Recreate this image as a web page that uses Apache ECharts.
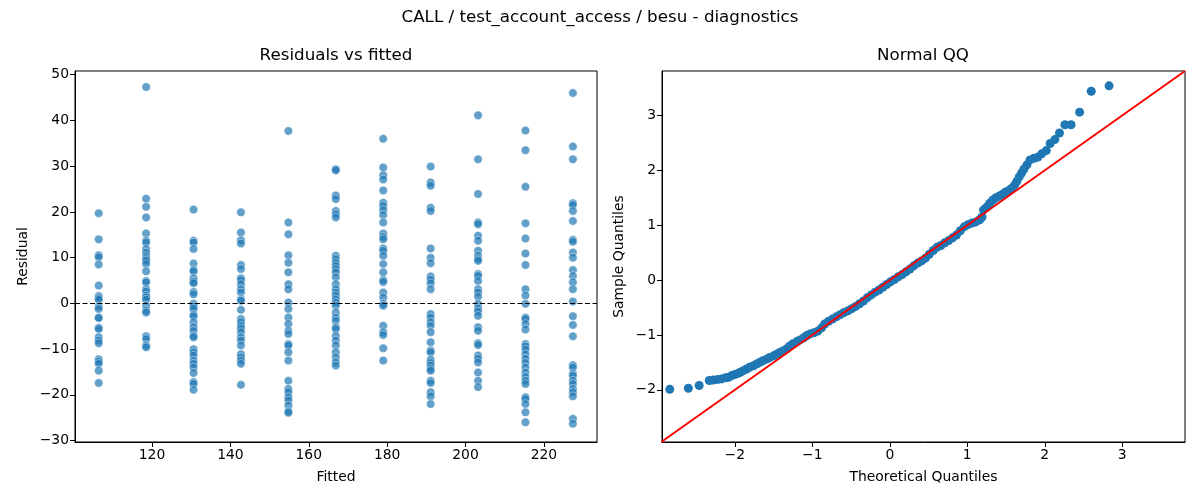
<!DOCTYPE html>
<html lang="en">
<head>
    <meta charset="UTF-8">
    <title>CALL / test_account_access / besu - diagnostics</title>
    <script src="https://cdn.jsdelivr.net/npm/echarts@6/dist/echarts.min.js"></script>
    <style>
        html, body { margin: 0; padding: 0; background: #fff; }
        #main { width: 1200px; height: 500px; }
    </style>
</head>
<body>

<div id="main"></div>

<script type="text/javascript">
    // fitted value of each column of residuals
    var fittedLevels = [106.4, 118.5, 130.6, 142.7, 154.8, 166.9, 179.0, 191.1, 203.2, 215.3, 227.4];

    // residuals read per fitted level
    var residuals = [
        [19.7, 14.0, 10.5, 10.1, 8.5, 3.9, 1.6, 1.2, 0.8, -0.7, -1.2, -3.1, -3.2, -5.3, -5.6, -7.4, -8.1, -8.7, -12.2, -12.7, -13.2, -14.7, -17.4],
        [47.3, 22.9, 21.1, 18.8, 15.3, 13.7, 13.3, 11.9, 11.1, 10.3, 9.7, 9.3, 8.6, 7.0, 4.9, 4.6, 3.1, 2.6, 1.7, 1.3, 0.8, -0.5, -1.6, -2.0, -7.2, -7.8, -9.2, -9.6],
        [20.5, 13.7, 13.3, 11.9, 8.7, 7.3, 7.0, 5.5, 4.8, 4.4, 2.5, 2.0, -0.1, -0.7, -1.2, -2.5, -2.8, -4.1, -5.2, -6.0, -7.1, -7.4, -10.0, -10.7, -11.4, -12.5, -13.2, -14.0, -15.2, -17.2, -17.6, -18.9],
        [19.9, 15.5, 13.8, 13.1, 8.4, 7.5, 5.5, 5.1, 4.2, 3.1, 2.4, 0.9, 0.6, -1.4, -3.4, -4.1, -4.9, -5.5, -6.3, -7.4, -8.1, -9.2, -11.1, -11.8, -12.5, -13.2, -17.8],
        [37.7, 17.7, 15.1, 10.5, 8.9, 6.8, 4.2, 3.1, 0.2, -1.2, -3.1, -4.5, -6.0, -6.7, -8.9, -9.2, -10.7, -12.5, -16.9, -18.7, -19.4, -20.5, -21.2, -22.3, -23.6, -23.9],
        [29.3, 29.1, 23.6, 22.8, 20.2, 19.5, 18.8, 10.4, 9.7, 8.9, 8.2, 7.5, 6.8, 5.7, 4.2, 3.1, 2.4, 1.7, 0.9, 0.2, -0.5, -2.0, -3.1, -3.8, -5.2, -5.6, -7.1, -8.1, -9.2, -10.7, -11.8, -12.9, -13.6],
        [36.0, 29.7, 28.0, 27.1, 24.7, 22.0, 21.3, 20.4, 19.3, 17.7, 15.3, 14.5, 14.0, 12.0, 11.5, 10.4, 8.6, 6.8, 5.1, 4.7, 2.4, 1.3, -0.1, -0.5, -4.9, -6.3, -6.9, -9.8, -12.5],
        [29.9, 26.4, 25.7, 20.9, 20.2, 12.0, 10.0, 8.8, 5.9, 5.2, 4.4, 3.1, -2.3, -3.1, -4.1, -4.9, -6.3, -8.5, -10.3, -10.7, -12.3, -13.0, -13.6, -14.3, -14.7, -16.9, -17.4, -19.4, -20.3, -22.0],
        [41.1, 31.5, 23.9, 17.7, 17.3, 14.8, 13.7, 11.5, 10.4, 9.7, 9.3, 6.4, 6.0, 4.9, 3.1, 2.4, 1.5, -0.1, -1.1, -1.8, -2.7, -5.2, -6.0, -8.7, -9.1, -11.4, -12.1, -12.9, -15.1, -16.9, -18.3],
        [37.8, 33.5, 25.5, 17.5, 14.2, 10.9, 8.4, 3.1, 1.7, -0.1, -3.1, -3.4, -4.5, -5.7, -8.9, -9.4, -10.1, -11.1, -12.1, -13.0, -14.0, -15.1, -16.1, -16.9, -17.6, -20.5, -20.9, -22.0, -23.8, -26.0],
        [46.0, 34.3, 31.5, 21.9, 21.5, 20.2, 18.0, 13.9, 13.5, 11.1, 10.0, 7.3, 6.0, 4.6, 3.1, 0.4, -2.8, -4.7, -7.2, -13.5, -14.0, -15.4, -15.8, -16.9, -17.6, -18.7, -19.4, -20.3, -25.2, -26.3]
    ];

    // normal QQ points [theoretical, sample]
    var qqPoints = [
        [-2.84, -1.99], [-2.60, -1.97], [-2.46, -1.92], [-2.33, -1.83], [-2.28, -1.82], [-2.22, -1.81],
        [-2.17, -1.80], [-2.12, -1.78], [-2.08, -1.77], [-2.04, -1.74], [-2.00, -1.72], [-1.96, -1.70],
        [-1.93, -1.68], [-1.89, -1.65], [-1.85, -1.62], [-1.81, -1.59], [-1.76, -1.56], [-1.72, -1.53],
        [-1.68, -1.50], [-1.64, -1.47], [-1.59, -1.44], [-1.55, -1.41], [-1.50, -1.38], [-1.46, -1.35],
        [-1.42, -1.32], [-1.38, -1.29], [-1.33, -1.25], [-1.29, -1.20], [-1.25, -1.16], [-1.20, -1.12],
        [-1.16, -1.09], [-1.11, -1.05], [-1.07, -1.01], [-1.03, -0.98], [-0.98, -0.96], [-0.93, -0.93],
        [-0.88, -0.87], [-0.84, -0.80], [-0.79, -0.75], [-0.74, -0.71], [-0.69, -0.67], [-0.64, -0.63],
        [-0.59, -0.59], [-0.54, -0.56], [-0.49, -0.52], [-0.44, -0.48], [-0.39, -0.43], [-0.34, -0.38],
        [-0.29, -0.32], [-0.24, -0.27], [-0.19, -0.22], [-0.14, -0.18], [-0.09, -0.13], [-0.04, -0.08],
        [0.01, -0.03], [0.06, 0.01], [0.11, 0.06], [0.16, 0.10], [0.21, 0.15], [0.26, 0.20],
        [0.31, 0.26], [0.36, 0.31], [0.41, 0.35], [0.46, 0.40], [0.51, 0.47], [0.56, 0.54],
        [0.61, 0.60], [0.66, 0.63], [0.71, 0.68], [0.76, 0.72], [0.81, 0.77], [0.86, 0.82],
        [0.91, 0.90], [0.96, 0.97], [1.01, 1.01], [1.06, 1.04], [1.11, 1.06], [1.16, 1.10],
        [1.19, 1.15], [1.21, 1.28], [1.25, 1.33], [1.29, 1.40], [1.33, 1.46], [1.37, 1.50],
        [1.41, 1.53], [1.45, 1.56], [1.49, 1.60], [1.53, 1.63], [1.57, 1.67], [1.61, 1.73],
        [1.64, 1.80], [1.67, 1.88], [1.70, 1.95], [1.73, 2.02], [1.77, 2.10], [1.81, 2.19],
        [1.86, 2.22], [1.91, 2.24], [1.96, 2.30], [2.02, 2.36], [2.07, 2.49], [2.13, 2.56],
        [2.19, 2.68], [2.26, 2.83], [2.34, 2.83], [2.45, 3.06], [2.60, 3.44], [2.83, 3.54]
    ];

    // 45 degree reference line ends
    var refLine = [[-2.95, -2.95], [3.81, 3.81]];

    var fittedTicks = [120, 140, 160, 180, 200, 220];
    var residualTicks = [-30, -20, -10, 0, 10, 20, 30, 40, 50];
    var quantileTicks = [-2, -1, 0, 1, 2, 3];

    var scatterData = [];
    for (var i = 0; i < fittedLevels.length; i++) {
        for (var j = 0; j < residuals[i].length; j++) {
            scatterData.push([fittedLevels[i], residuals[i][j]]);
        }
    }

    var FONT = 'DejaVu Sans';

    function minus(v) {
        return String(v).replace('-', '\u2212');
    }

    function axisBase(ticks, extra) {
        var a = {
            type: 'value',
            scale: true,
            splitLine: { show: false },
            axisLine: { show: true, onZero: false, lineStyle: { color: '#000', width: 1 } },
            axisTick: { show: true, length: 5, customValues: ticks, lineStyle: { color: '#000', width: 1 } },
            axisLabel: {
                customValues: ticks, color: '#000', fontSize: 13.9, fontFamily: FONT, margin: 6,
                formatter: minus
            },
            nameLocation: 'middle',
            nameTextStyle: { color: '#000', fontSize: 13.9, fontFamily: FONT }
        };
        for (var k in extra) a[k] = extra[k];
        return a;
    }

    var myChart = echarts.init(document.getElementById('main'), null, { renderer: 'canvas' });

    var option = {
        animation: false,
        backgroundColor: '#fff',
        graphic: [
            { type: 'text', x: 600, y: 18, style: { text: 'CALL / test_account_access / besu - diagnostics', fill: '#000', font: '16.7px "DejaVu Sans"', align: 'center', verticalAlign: 'middle' } },
            { type: 'text', x: 336, y: 56, style: { text: 'Residuals vs fitted', fill: '#000', font: '16.7px "DejaVu Sans"', align: 'center', verticalAlign: 'middle' } },
            { type: 'text', x: 923, y: 56, style: { text: 'Normal QQ', fill: '#000', font: '16.7px "DejaVu Sans"', align: 'center', verticalAlign: 'middle' } }
        ],
        grid: [
            { left: 75, top: 71, width: 522, height: 371, show: true, borderColor: '#000', borderWidth: 1, backgroundColor: 'transparent' },
            { left: 662, top: 71, width: 523, height: 371, show: true, borderColor: '#000', borderWidth: 1, backgroundColor: 'transparent' }
        ],
        xAxis: [
            axisBase(fittedTicks, { gridIndex: 0, min: 100.35, max: 233.55, name: 'Fitted', nameGap: 28 }),
            axisBase(quantileTicks, { gridIndex: 1, min: -2.94, max: 3.81, name: 'Theoretical Quantiles', nameGap: 28 })
        ],
        yAxis: [
            axisBase(residualTicks, { gridIndex: 0, min: -30.3, max: 50.8, name: 'Residual', nameGap: 45 }),
            axisBase(quantileTicks, { gridIndex: 1, min: -2.95, max: 3.81, name: 'Sample Quantiles', nameGap: 36 })
        ],
        series: [
            {
                type: 'scatter',
                xAxisIndex: 0,
                yAxisIndex: 0,
                data: scatterData,
                symbolSize: 8.5,
                itemStyle: { color: '#1f77b4', opacity: 0.7, borderColor: '#fff', borderWidth: 0.6 },
                emphasis: { disabled: true },
                silent: true,
                markLine: {
                    silent: true,
                    symbol: 'none',
                    label: { show: false },
                    lineStyle: { color: '#000', width: 1.2, type: [5, 2.5] },
                    data: [{ yAxis: 0 }],
                    z: 10
                }
            },
            {
                type: 'scatter',
                xAxisIndex: 1,
                yAxisIndex: 1,
                data: qqPoints,
                symbolSize: 9,
                itemStyle: { color: '#1f77b4', opacity: 1 },
                emphasis: { disabled: true },
                silent: true,
                z: 2
            },
            {
                type: 'line',
                xAxisIndex: 1,
                yAxisIndex: 1,
                data: refLine,
                symbol: 'none',
                clip: true,
                lineStyle: { color: '#ff0000', width: 2 },
                silent: true,
                z: 3
            }
        ]
    };

    myChart.setOption(option);
</script>
</body>
</html>
